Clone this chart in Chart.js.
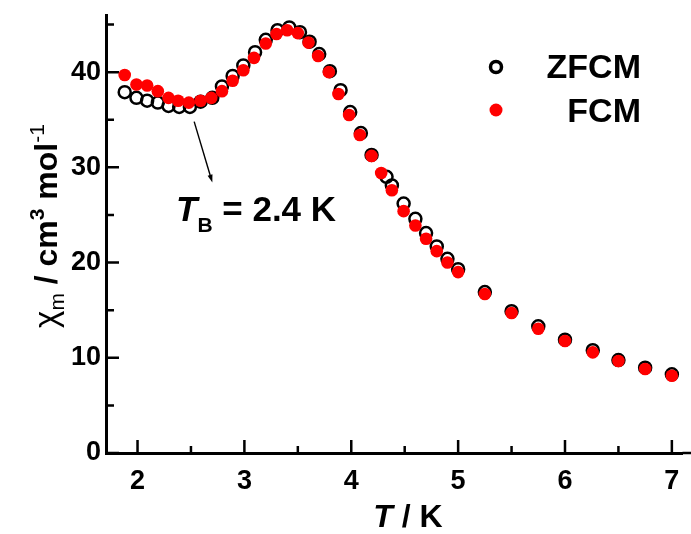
<!DOCTYPE html>
<html>
<head>
<meta charset="utf-8">
<script src="https://cdn.jsdelivr.net/npm/chart.js@4/dist/chart.umd.min.js"></script>
<style>
  html, body { margin: 0; padding: 0; background: #fff; }
  #wrap { width: 691px; height: 534px; position: relative; }
</style>
</head>
<body>
<div id="wrap"><canvas id="chiChart"></canvas></div>
<script>
// values (T in K, chi_m in cm3 mol-1)
const tempZFCM = [1.88, 1.99, 2.09, 2.19, 2.29, 2.39, 2.49, 2.59, 2.70, 2.79, 2.89, 2.99, 3.10, 3.20, 3.31, 3.42, 3.52, 3.61, 3.70, 3.80,
                  3.90, 3.99, 4.09, 4.19, 4.33, 4.38, 4.49, 4.60, 4.70, 4.80, 4.90, 5.00, 5.25, 5.50, 5.75, 6.00, 6.26, 6.50, 6.75, 7.00];
const chiZFCM  = [37.9, 37.3, 37.0, 36.8, 36.45, 36.35, 36.35, 36.9, 37.3, 38.5, 39.6, 40.7, 42.1, 43.4, 44.4, 44.7, 44.2, 43.2, 41.9, 40.1,
                  38.1, 35.8, 33.6, 31.3, 29.0, 28.1, 26.2, 24.6, 23.1, 21.7, 20.4, 19.3, 16.9, 14.9, 13.3, 11.9, 10.8, 9.76, 8.96, 8.26];
const tempFCM  = [1.88, 1.99, 2.09, 2.19, 2.29, 2.38, 2.48, 2.59, 2.69, 2.79, 2.89, 2.99, 3.09, 3.20, 3.30, 3.40, 3.50, 3.60, 3.69, 3.79,
                  3.88, 3.98, 4.08, 4.19, 4.28, 4.38, 4.49, 4.60, 4.70, 4.80, 4.90, 5.00, 5.25, 5.50, 5.75, 6.00, 6.26, 6.50, 6.75, 7.00];
const chiFCM   = [39.7, 38.7, 38.6, 38.0, 37.3, 37.0, 36.8, 37.0, 37.3, 38.0, 39.1, 40.2, 41.5, 43.0, 44.0, 44.4, 44.1, 43.1, 41.7, 40.0,
                  37.7, 35.5, 33.4, 31.2, 29.4, 27.6, 25.4, 23.9, 22.5, 21.2, 20.0, 19.0, 16.7, 14.7, 13.05, 11.76, 10.57, 9.66, 8.82, 8.12];
const seriesLabels = ['ZFCM', 'FCM'];

const xTicks = [2, 3, 4, 5, 6, 7];
const xMinor = [2.5, 3.5, 4.5, 5.5, 6.5];
const yTicks = [0, 10, 20, 30, 40];
const yMinor = [5, 15, 25, 35, 45];

// blocking temperature annotation (arrow in data units)
const arrowFrom = { x: 2.53, y: 34.8 };
const arrowTo = { x: 2.70, y: 28.4 };
const noteAt = { x: 2.36, y: 24.4 };

const FONT = "'Liberation Sans', Arial, sans-serif";

function toPoints(xs, ys) {
    return xs.map((t, i) => ({ x: t, y: ys[i] }));
}

// inward tick marks, drawn from the scales
const tickMarks = {
    id: 'tickMarks',
    beforeDatasetsDraw(chart) {
        const { ctx, scales: { x, y } } = chart;
        const bottom = y.getPixelForValue(0);
        const left = x.left;
        ctx.save();
        ctx.strokeStyle = '#000';
        ctx.lineWidth = 2.5;
        ctx.beginPath();
        xTicks.forEach(v => { const p = x.getPixelForValue(v); ctx.moveTo(p, bottom); ctx.lineTo(p, bottom - 13); });
        xMinor.forEach(v => { const p = x.getPixelForValue(v); ctx.moveTo(p, bottom); ctx.lineTo(p, bottom - 7); });
        yTicks.forEach(v => { const p = y.getPixelForValue(v); ctx.moveTo(left, p); ctx.lineTo(left + 13, p); });
        yMinor.forEach(v => { const p = y.getPixelForValue(v); ctx.moveTo(left, p); ctx.lineTo(left + 8, p); });
        // axis line carried on to the right edge of the picture
        ctx.moveTo(x.right, bottom);
        ctx.lineTo(chart.width, bottom);
        ctx.stroke();
        ctx.restore();
    }
};

function drawRuns(ctx, runs, x0, y0) {
    // runs: [text, font, dy]
    let cx = x0;
    runs.forEach(r => {
        ctx.font = r[1];
        ctx.fillText(r[0], cx, y0 + r[2]);
        cx += ctx.measureText(r[0]).width;
    });
    return cx - x0;
}

function runsWidth(ctx, runs) {
    let w = 0;
    runs.forEach(r => { ctx.font = r[1]; w += ctx.measureText(r[0]).width; });
    return w;
}

const extras = {
    id: 'extras',
    afterDraw(chart) {
        const { ctx, scales: { x, y } } = chart;
        ctx.save();
        ctx.fillStyle = '#000';
        ctx.strokeStyle = '#000';
        ctx.textBaseline = 'alphabetic';
        ctx.textAlign = 'left';

        // y axis title
        const yRuns = [
            ['\u03C7', 'normal 33px ' + FONT, 0],
            ['m', 'normal 21px ' + FONT, 7],
            [' / cm', 'bold 32px ' + FONT, 0],
            ['3', 'bold 21px ' + FONT, -13],
            [' mol', 'bold 32px ' + FONT, 0],
            ['-1', 'normal 21px ' + FONT, -13]
        ];
        ctx.save();
        ctx.translate(57, 226);
        ctx.rotate(-Math.PI / 2);
        drawRuns(ctx, yRuns, -runsWidth(ctx, yRuns) / 2, 0);
        ctx.restore();

        // x axis title
        const xRuns = [
            ['T', 'italic bold 32px ' + FONT, 0],
            [' / K', 'bold 32px ' + FONT, 0]
        ];
        drawRuns(ctx, xRuns, 408 - runsWidth(ctx, xRuns) / 2, 527);

        // legend
        const legendX = 496;
        ctx.lineWidth = 3.5;
        ctx.beginPath();
        ctx.arc(legendX, 67, 5.5, 0, Math.PI * 2);
        ctx.stroke();
        ctx.fillStyle = '#ff0000';
        ctx.beginPath();
        ctx.arc(legendX, 110, 6.5, 0, Math.PI * 2);
        ctx.fill();
        ctx.fillStyle = '#000';
        ctx.font = 'bold 34px ' + FONT;
        ctx.textAlign = 'right';
        ctx.fillText(seriesLabels[0], 641, 78);
        ctx.fillText(seriesLabels[1], 641, 122);
        ctx.textAlign = 'left';

        // arrow to the blocking temperature
        const ax0 = x.getPixelForValue(arrowFrom.x), ay0 = y.getPixelForValue(arrowFrom.y);
        const ax1 = x.getPixelForValue(arrowTo.x), ay1 = y.getPixelForValue(arrowTo.y);
        const ang = Math.atan2(ay1 - ay0, ax1 - ax0);
        ctx.lineWidth = 1.4;
        ctx.beginPath();
        ctx.moveTo(ax0, ay0);
        ctx.lineTo(ax1 - 5 * Math.cos(ang), ay1 - 5 * Math.sin(ang));
        ctx.stroke();
        ctx.beginPath();
        ctx.moveTo(ax1, ay1);
        ctx.lineTo(ax1 - 8 * Math.cos(ang) + 2.5 * Math.sin(ang), ay1 - 8 * Math.sin(ang) - 2.5 * Math.cos(ang));
        ctx.lineTo(ax1 - 8 * Math.cos(ang) - 2.5 * Math.sin(ang), ay1 - 8 * Math.sin(ang) + 2.5 * Math.cos(ang));
        ctx.closePath();
        ctx.fill();

        // T_B = 2.4 K
        const nx = x.getPixelForValue(noteAt.x), ny = y.getPixelForValue(noteAt.y);
        drawRuns(ctx, [
            ['T', 'italic bold 35px ' + FONT, 0],
            ['B', 'bold 21px ' + FONT, 11],
            [' = 2.4 K', 'bold 35px ' + FONT, 0]
        ], nx, ny);

        ctx.restore();
    }
};

const ctx = document.getElementById('chiChart').getContext('2d');
new Chart(ctx, {
    type: 'scatter',
    data: {
        datasets: [
            {
                label: seriesLabels[0],
                data: toPoints(tempZFCM, chiZFCM),
                pointStyle: 'circle',
                pointRadius: 6,
                pointBorderWidth: 2.5,
                borderColor: '#000',
                backgroundColor: 'rgba(0,0,0,0)',
                order: 2
            },
            {
                label: seriesLabels[1],
                data: toPoints(tempFCM, chiFCM),
                pointStyle: 'circle',
                pointRadius: 6.3,
                pointBorderWidth: 0,
                borderColor: '#ff0000',
                backgroundColor: '#ff0000',
                order: 1
            }
        ]
    },
    options: {
        responsive: true,
        maintainAspectRatio: false,
        animation: false,
        layout: { padding: { top: 15, right: 0, bottom: 0, left: 0 } },
        plugins: { legend: { display: false }, tooltip: { enabled: false } },
        scales: {
            x: {
                type: 'linear',
                min: 1.705, max: 7.0995,
                afterBuildTicks: s => { s.ticks = xTicks.map(v => ({ value: v })); },
                afterFit: s => { s.height = 81; s.paddingLeft = 0; s.paddingRight = 0; },
                grid: { display: false, drawTicks: false },
                border: { display: true, color: '#000', width: 3 },
                ticks: { color: '#000', padding: 12, font: { family: FONT, size: 27, weight: 'bold' } }
            },
            y: {
                type: 'linear',
                min: 0, max: 46,
                afterBuildTicks: s => { s.ticks = yTicks.map(v => ({ value: v })); },
                afterFit: s => { s.width = 106; s.paddingTop = 0; s.paddingBottom = 0; },
                grid: { display: false, drawTicks: false },
                border: { display: true, color: '#000', width: 3 },
                ticks: { color: '#000', padding: 5, font: { family: FONT, size: 27, weight: 'bold' } }
            }
        }
    },
    plugins: [tickMarks, extras]
});
</script>
</body>
</html>
